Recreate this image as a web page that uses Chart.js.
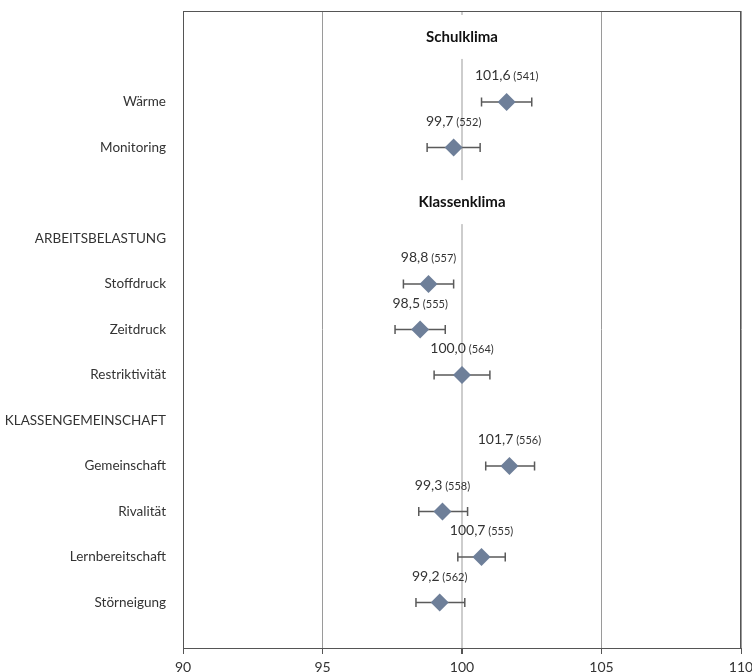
<!DOCTYPE html>
<html>
<head>
<meta charset="utf-8">
<script src="https://cdn.jsdelivr.net/npm/chart.js@4.4.1/dist/chart.umd.min.js"></script>
<style>
  body { margin: 0; background: #fff; }
  #wrap { width: 752px; height: 672px; }
</style>
</head>
<body>
<div id="wrap"><canvas id="chart"></canvas></div>
<script>
// rows top to bottom, blanks leave room for the section headers
const rowLabels = ['', '', 'Wärme', 'Monitoring', '', 'ARBEITSBELASTUNG', 'Stoffdruck', 'Zeitdruck',
    'Restriktivität', 'KLASSENGEMEINSCHAFT', 'Gemeinschaft', 'Rivalität', 'Lernbereitschaft', 'Störneigung', ''];
const means  = [null, null, 101.6, 99.7, null, null, 98.8, 98.5, 100.0, null, 101.7, 99.3, 100.7, 99.2, null];
const ciLow  = [null, null, 100.7, 98.75, null, null, 97.9, 97.6, 99.0, null, 100.85, 98.45, 99.85, 98.35, null];
const ciHigh = [null, null, 102.5, 100.65, null, null, 99.7, 99.4, 101.0, null, 102.6, 100.2, 101.55, 100.1, null];
const counts = [null, null, 541, 552, null, null, 557, 555, 564, null, 556, 558, 555, 562, null];

const headers = ['Schulklima', 'Klassenklima'];
const headerRows = [0.57, 4.2];

const FONT = 'Lato';
const TEXT = '#333333';

function fmt(v) {
    return v.toFixed(1).replace('.', ',');
}

const headerPlugin = {
    id: 'headers',
    beforeDatasetsDraw(chart) {
        const { ctx, scales: { x, y } } = chart;
        const cx = x.getPixelForValue(100);
        ctx.save();
        ctx.font = `bold 15px ${FONT}`;
        ctx.textAlign = 'center';
        ctx.textBaseline = 'middle';
        headers.forEach((h, i) => {
            const cy = y.getPixelForValue(headerRows[i]);
            const w = ctx.measureText(h).width + 16;
            ctx.fillStyle = '#fff';
            ctx.fillRect(cx - w / 2, cy - 22, w, 44);
            ctx.fillStyle = '#111';
            ctx.fillText(h, cx, cy);
        });
        ctx.restore();
    }
};

const errorBars = {
    id: 'errorBars',
    beforeDatasetsDraw(chart) {
        const { ctx, scales: { x, y } } = chart;
        ctx.save();
        ctx.strokeStyle = '#5a5a5a';
        ctx.lineWidth = 1.5;
        means.forEach((m, i) => {
            if (m === null) return;
            const py = y.getPixelForValue(i);
            const x1 = x.getPixelForValue(ciLow[i]);
            const x2 = x.getPixelForValue(ciHigh[i]);
            ctx.beginPath();
            ctx.moveTo(x1, py); ctx.lineTo(x2, py);
            ctx.moveTo(x1, py - 4.5); ctx.lineTo(x1, py + 4.5);
            ctx.moveTo(x2, py - 4.5); ctx.lineTo(x2, py + 4.5);
            ctx.stroke();
        });
        ctx.restore();
    }
};

const valueLabels = {
    id: 'valueLabels',
    afterDatasetsDraw(chart) {
        const { ctx, scales: { x, y } } = chart;
        ctx.save();
        ctx.textBaseline = 'alphabetic';
        ctx.textAlign = 'left';
        ctx.fillStyle = TEXT;
        means.forEach((m, i) => {
            if (m === null) return;
            const big = fmt(m);
            const small = ' (' + counts[i] + ')';
            ctx.font = `14px ${FONT}`;
            const w1 = ctx.measureText(big).width;
            ctx.font = `11px ${FONT}`;
            const w2 = ctx.measureText(small).width;
            const left = x.getPixelForValue(m) - (w1 + w2) / 2;
            const base = y.getPixelForValue(i) - 22;
            ctx.font = `14px ${FONT}`;
            ctx.fillText(big, left, base);
            ctx.font = `11px ${FONT}`;
            ctx.fillText(small, left + w1, base);
        });
        ctx.restore();
    }
};

const frame = {
    id: 'frame',
    afterDraw(chart) {
        const { ctx, chartArea: a } = chart;
        ctx.save();
        ctx.strokeStyle = '#555';
        ctx.lineWidth = 1;
        ctx.strokeRect(a.left + 0.5, a.top + 0.5, a.right - a.left - 1, a.bottom - a.top);
        ctx.restore();
    }
};

new Chart(document.getElementById('chart'), {
    type: 'line',
    data: {
        labels: rowLabels,
        datasets: [{
            data: means,
            showLine: false,
            pointStyle: 'rectRot',
            pointRadius: 9,
            pointHoverRadius: 9,
            pointBorderWidth: 0,
            pointBackgroundColor: '#6e7f99',
            borderColor: '#6e7f99'
        }]
    },
    options: {
        indexAxis: 'y',
        responsive: true,
        maintainAspectRatio: false,
        animation: false,
        layout: { autoPadding: false, padding: { top: 11, right: 11, left: 0, bottom: 0 } },
        plugins: { legend: { display: false }, tooltip: { enabled: false } },
        scales: {
            x: {
                type: 'linear',
                min: 90,
                max: 110,
                afterFit: s => { s.height = 24; s.paddingLeft = 0; s.paddingRight = 0; },
                ticks: { stepSize: 5, color: TEXT, font: { family: FONT, size: 14 }, padding: 5, autoSkip: false },
                grid: {
                    color: c => c.tick && c.tick.value === 100 ? '#cdcdcd' : '#9a9a9a',
                    lineWidth: c => c.tick && c.tick.value === 100 ? 2 : 1,
                    tickColor: '#555',
                    tickLength: 6
                },
                border: { color: '#555', width: 1 }
            },
            y: {
                type: 'category',
                offset: false,
                afterFit: s => { s.width = 183; s.paddingTop = 0; s.paddingBottom = 0; },
                ticks: { color: TEXT, font: { family: FONT, size: 13.5 }, padding: 9, autoSkip: false },
                grid: { display: false },
                border: { color: '#555', width: 1 }
            }
        }
    },
    plugins: [headerPlugin, errorBars, valueLabels, frame]
});
</script>
</body>
</html>
